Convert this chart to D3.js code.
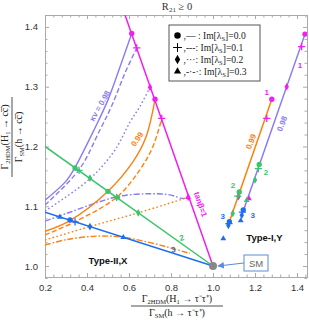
<!DOCTYPE html>
<html>
<head>
<meta charset="utf-8">
<script src="https://cdn.jsdelivr.net/npm/d3@7"></script>
<style>
body { margin: 0; background: #fff; }
</style>
</head>
<body>
<div id="chart"></div>
<script>
// Im[lambda_5] levels and line styles
var imLabels = ["0.0", "0.1", "0.2", "0.3"];
var dashes = [null, "5,2.5", "1.6,2.4", "6,2,1.6,2"];
var legendDash = [",\u2014 :", ",---:", ",\u00b7\u00b7\u00b7:", ",-\u00b7-\u00b7:"];

// Type-II,X curves, one per Im level
var kv98 = [
    [[0.2,1.110],[0.30,1.142],[0.343,1.165],[0.438,1.231],[0.50,1.278],[0.557,1.333],[0.613,1.389]],
    [[0.2,1.102],[0.362,1.161],[0.462,1.228],[0.519,1.269],[0.581,1.323],[0.637,1.365]],
    [[0.2,1.092],[0.414,1.146],[0.533,1.194],[0.605,1.241],[0.652,1.267],[0.70,1.299]],
    [[0.2,1.075],[0.319,1.090],[0.438,1.105],[0.557,1.117],[0.70,1.121],[0.795,1.119],[0.857,1.113],[0.882,1.115]]
];
var kv99 = [
    [[0.2,1.058],[0.319,1.076],[0.50,1.125],[0.62,1.175],[0.68,1.215],[0.724,1.279]],
    [[0.2,1.052],[0.343,1.074],[0.541,1.115],[0.65,1.160],[0.714,1.200],[0.756,1.247]],
    [[0.2,1.0435],[0.414,1.066],[0.644,1.089],[0.882,1.115]],
    [[0.2,1.035],[0.30,1.044],[0.45,1.050],[0.573,1.048],[0.69,1.040],[0.80,1.030],[0.89,1.021]]
];

// Type-I,Y lines
var typeI98 = [[1.438,1.388],[1.137,1.085]];
var typeI99 = [[1.280,1.279],[1.078,1.074]];

// constant tan(beta) lines
var tanb1 = [[1.0,1.0],[0.581,1.42]];
var tanb2 = [[0.2,1.2],[1.0,1.0]];
var tanb3 = [[0.2,1.09],[1.0,1.0]];

// markers: [x, y, im index]
var pts1 = [[0.613,1.389,0],[0.637,1.365,1],[0.70,1.299,2],[0.882,1.115,3],[0.724,1.279,0],[0.756,1.247,1],[0.882,1.115,2],
            [1.438,1.388,0],[1.422,1.367,1],[1.351,1.300,2],[1.171,1.113,3],[1.280,1.279,0],[1.256,1.247,1],[1.121,1.116,2]];
var pts2 = [[0.343,1.164,0],[0.362,1.160,1],[0.414,1.147,2],[0.545,1.114,3],[0.50,1.125,0],[0.541,1.115,1],[0.644,1.089,2],
            [1.22,1.170,0],[1.216,1.163,1],[1.20,1.144,2],[1.160,1.110,3],[1.125,1.124,0],[1.118,1.117,1],[1.094,1.088,2]];
var pts3 = [[0.271,1.082,3],[0.319,1.077,0],[0.343,1.074,1],[0.414,1.066,2],[0.573,1.048,3],
            [1.144,1.094,0],[1.140,1.090,1],[1.137,1.085,2],[1.132,1.076,3],[1.078,1.074,0],[1.076,1.071,1],[1.073,1.068,2],[1.049,1.046,3]];

var xMajor = [0.2,0.4,0.6,0.8,1.0,1.2,1.4];
var yMajor = [1.0,1.1,1.2,1.3,1.4];

var cPurple = "#8b7af5", cOrange = "#ff7f0e", cMagenta = "#f01ef0",
    cGreen = "#3cc46a", cBlue = "#1f6ef2";

var width = 309, height = 325;
var margin = {top: 15, right: 2, bottom: 48, left: 45};
var sans = "Liberation Sans, Arial, sans-serif";
var serif = "Liberation Serif, Times New Roman, serif";

var svg = d3.select("#chart").append("svg")
    .attr("width", width).attr("height", height);

var x = d3.scaleLinear().domain([0.2, 1.4476]).range([margin.left, width - margin.right]);
var y = d3.scaleLinear().domain([0.9816, 1.42]).range([height - margin.bottom, margin.top]);

svg.append("clipPath").attr("id", "clip")
  .append("rect")
    .attr("x", x.range()[0]).attr("y", y.range()[1])
    .attr("width", x.range()[1] - x.range()[0])
    .attr("height", y.range()[0] - y.range()[1]);

// frame + ticks
var xMinor = d3.range(0.2, 1.445, 0.04).filter(function(v) {
    return xMajor.every(function(m) { return Math.abs(m - v) > 1e-6; });
});
var yMinor = d3.range(0.98, 1.421, 0.02).filter(function(v) {
    return yMajor.every(function(m) { return Math.abs(m - v) > 1e-6; });
});

function drawAxis(axisFn, scale, vals, size, tr, labels) {
    var g = svg.append("g").attr("transform", tr)
        .call(axisFn(scale).tickValues(vals).tickSize(size).tickPadding(labels ? 7 : 0)
              .tickFormat(labels ? d3.format(".1f") : ""));
    g.select(".domain").attr("stroke", "#aaa");
    g.selectAll(".tick line").attr("stroke", "#aaa");
    g.selectAll("text").attr("fill", "#333").style("font-family", sans).style("font-size", "9.5px");
    return g;
}
var x0 = x.range()[0], x1 = x.range()[1], y0 = y.range()[0], y1 = y.range()[1];
drawAxis(d3.axisBottom, x, xMajor, -4, "translate(0," + y0 + ")", true);
drawAxis(d3.axisBottom, x, xMinor, -2.5, "translate(0," + y0 + ")", false);
drawAxis(d3.axisTop, x, xMajor, -4, "translate(0," + y1 + ")", false);
drawAxis(d3.axisTop, x, xMinor, -2.5, "translate(0," + y1 + ")", false);
drawAxis(d3.axisLeft, y, yMajor, -4, "translate(" + x0 + ",0)", true);
drawAxis(d3.axisLeft, y, yMinor, -2.5, "translate(" + x0 + ",0)", false);
drawAxis(d3.axisRight, y, yMajor, -4, "translate(" + x1 + ",0)", false);
drawAxis(d3.axisRight, y, yMinor, -2.5, "translate(" + x1 + ",0)", false);

var plot = svg.append("g").attr("clip-path", "url(#clip)");

var line = d3.line().x(function(d) { return x(d[0]); }).y(function(d) { return y(d[1]); });
var curve = d3.line().curve(d3.curveCatmullRom.alpha(0.5))
    .x(function(d) { return x(d[0]); }).y(function(d) { return y(d[1]); });

function drawCurves(set, color) {
    set.forEach(function(pts, i) {
        plot.append("path")
            .attr("d", curve(pts))
            .attr("fill", "none")
            .attr("stroke", color)
            .attr("stroke-width", 1.4)
            .attr("stroke-dasharray", dashes[i]);
    });
}
drawCurves(kv98, cPurple);
drawCurves(kv99, cOrange);

[[typeI98, cPurple], [typeI99, cOrange], [tanb2, cGreen], [tanb3, cBlue], [tanb1, cMagenta]].forEach(function(p) {
    plot.append("path").attr("d", line(p[0]))
        .attr("fill", "none").attr("stroke", p[1]).attr("stroke-width", 1.5);
});

// markers
function marker(g, type, cx, cy, s, color, pw) {
    if (type === 1) {
        g.append("path")
            .attr("d", "M" + (cx - s) + "," + cy + "H" + (cx + s) + "M" + cx + "," + (cy - s) + "V" + (cy + s))
            .attr("stroke", color).attr("stroke-width", pw || 1.3).attr("fill", "none");
    } else {
        var sym = [d3.symbolCircle, null, d3.symbolDiamond, d3.symbolTriangle][type];
        var area = [Math.PI * s * s * 0.55, 0, s * s * 1.3, s * s * 1.15][type];
        g.append("path")
            .attr("d", d3.symbol().type(sym).size(area)())
            .attr("transform", "translate(" + cx + "," + cy + ")")
            .attr("fill", color);
    }
}
[[pts1, cMagenta], [pts2, cGreen], [pts3, cBlue]].forEach(function(p) {
    p[0].forEach(function(d) {
        marker(plot, d[2], x(d[0]), y(d[1]), 3.6, p[1]);
    });
});

// SM point
plot.append("circle").attr("cx", x(1.0)).attr("cy", y(1.0)).attr("r", 4).attr("fill", "#888");

// curve labels
function label(txt, dx, dy, rot, color, size, weight) {
    svg.append("text")
        .attr("transform", "translate(" + x(dx) + "," + y(dy) + ") rotate(" + rot + ")")
        .attr("text-anchor", "middle")
        .attr("dominant-baseline", "central")
        .attr("fill", color)
        .style("font-family", sans)
        .style("font-size", size + "px")
        .style("font-weight", weight || "bold")
        .text(txt);
}
label("\u03bav = 0.98", 0.462, 1.268, -60, cPurple, 8);
label("0.99", 0.640, 1.212, -55, cOrange, 8);
label("0.99", 1.182, 1.208, -68, cOrange, 8);
label("0.98", 1.330, 1.238, -68, cPurple, 8);
label("tan\u03b2=1", 0.94, 1.103, 71, cMagenta, 8);
label("1", 1.414, 1.336, 0, cMagenta, 8);
label("1", 1.256, 1.290, 0, cMagenta, 8);
label("2", 1.095, 1.134, 0, cGreen, 8);
label("2", 1.252, 1.157, 0, cGreen, 8);
label("3", 1.046, 1.082, 0, cBlue, 8);
label("3", 1.189, 1.085, 0, cBlue, 8);
label("2", 0.851, 1.047, -15, cGreen, 8);
label("3", 0.811, 1.027, -10, cBlue, 8);
label("Type-II,X", 0.50, 1.01, 0, "#111", 9.5);
label("Type-I,Y", 1.245, 1.047, 0, "#111", 9.5);

// SM box with arrow
var smx = x(1.0) + 43, smy = y(1.0);
svg.append("defs").append("marker")
    .attr("id", "arr").attr("viewBox", "0 0 10 10").attr("refX", 9).attr("refY", 5)
    .attr("markerWidth", 6).attr("markerHeight", 6).attr("orient", "auto")
  .append("path").attr("d", "M0,0L10,5L0,10z").attr("fill", "#5b8bd9");
svg.append("line")
    .attr("x1", smx - 12).attr("y1", smy - 3).attr("x2", x(1.0) + 5).attr("y2", smy)
    .attr("stroke", "#5b8bd9").attr("stroke-width", 1.1).attr("marker-end", "url(#arr)");
svg.append("rect")
    .attr("x", smx - 12).attr("y", smy - 11).attr("width", 24).attr("height", 16)
    .attr("fill", "#fff").attr("stroke", "#5b8bd9").attr("stroke-width", 1);
svg.append("text")
    .attr("x", smx).attr("y", smy + 1).attr("text-anchor", "middle")
    .attr("fill", "#666").style("font-family", sans).style("font-size", "9.5px")
    .text("SM");

// rich text with subscripts: parts are [text, isSub]
function rich(t, parts, subSize) {
    var shifted = false;
    parts.forEach(function(p) {
        var s = t.append("tspan").text(p[0]);
        if (p[1] && !shifted) { s.attr("dy", 2).style("font-size", subSize); shifted = true; }
        else if (p[1]) { s.style("font-size", subSize); }
        else if (shifted) { s.attr("dy", -2); shifted = false; }
    });
}

// legend
var lg = svg.append("g").attr("transform", "translate(169,25)");
lg.append("rect").attr("width", 91).attr("height", 56)
    .attr("fill", "#fff").attr("stroke", "#555").attr("stroke-width", 1);
imLabels.forEach(function(lab, i) {
    var ry = 10.5 + i * 12;
    marker(lg, i, 8.5, ry, 4.4, "#000", 1);
    var t = lg.append("text").attr("x", 14.5).attr("y", ry + 3.2)
        .style("font-family", serif).style("font-size", "9.6px")
        .attr("fill", "#222");
    rich(t, [[legendDash[i] + " Im[\u03bb"], ["S", 1], ["]=" + lab]], "6.5px");
});

// title
var tt = svg.append("text").attr("x", 177).attr("y", 10).attr("text-anchor", "middle")
    .style("font-family", serif).style("font-size", "10.5px").attr("fill", "#333");
rich(tt, [["R"], ["21", 1], [" \u2265 0"]], "7px");

// axis labels (fractions)
function fraction(g, num, den, w) {
    var style = function(t) {
        return t.attr("text-anchor", "middle")
            .style("font-family", serif)
            .style("font-size", "10px").attr("fill", "#222");
    };
    rich(style(g.append("text").attr("y", -4)), num, "6.5px");
    g.append("line").attr("x1", -w / 2).attr("x2", w / 2).attr("stroke", "#222").attr("stroke-width", 0.8);
    rich(style(g.append("text").attr("y", 9.5)), den, "6.5px");
}
fraction(svg.append("g").attr("transform", "translate(177,306)"),
    [["\u0393"], ["2HDM", 1], ["(H"], ["1", 1], [" \u2192 \u03c4\u207b\u03c4\u207a)"]],
    [["\u0393"], ["SM", 1], ["(h \u2192 \u03c4\u207b\u03c4\u207a)"]], 92);
fraction(svg.append("g").attr("transform", "translate(12,137) rotate(-90)"),
    [["\u0393"], ["2HDM", 1], ["(H"], ["1", 1], [" \u2192 cc\u0305)"]],
    [["\u0393"], ["SM", 1], ["(h \u2192 cc\u0305)"]], 80);
</script>
</body>
</html>
